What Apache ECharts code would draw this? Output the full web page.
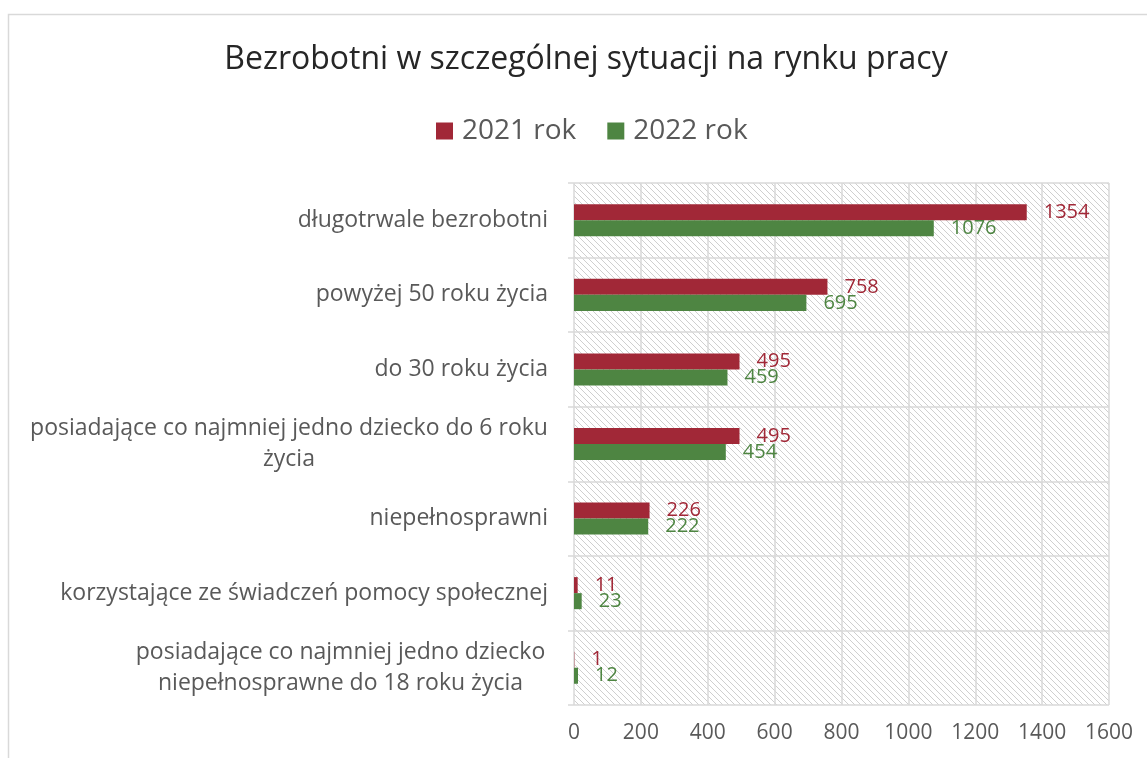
<!DOCTYPE html>
<html><head><meta charset="utf-8">
<script src="https://cdn.jsdelivr.net/npm/echarts@6/dist/echarts.min.js"></script>
<style>html,body{margin:0;padding:0;background:#fff}#c{width:1147px;height:758px}</style>
</head><body><div id="c"></div>
<script>
const categories = [
  'długotrwale bezrobotni',
  'powyżej 50 roku życia',
  'do 30 roku życia',
  'posiadające co najmniej jedno dziecko do 6 roku\nżycia',
  'niepełnosprawni',
  'korzystające ze świadczeń pomocy społecznej',
  'posiadające co najmniej jedno dziecko\nniepełnosprawne do 18 roku życia'
];
const values2021 = [1354, 758, 495, 495, 226, 11, 1];
const values2022 = [1076, 695, 459, 454, 222, 23, 12];
const seriesNames = ['2021 rok', '2022 rok'];
const xTicks = [0, 200, 400, 600, 800, 1000, 1200, 1400, 1600];

const RED = '#A12837', GREEN = '#4E8542';
const FONT = '"Open Sans", "Noto Sans", sans-serif';
const LBL = 23;

const tile = document.createElement('canvas');
tile.width = 6; tile.height = 6;
const tc = tile.getContext('2d');
tc.fillStyle = '#fff'; tc.fillRect(0,0,6,6);
tc.strokeStyle = '#cfcfcf'; tc.lineWidth = 1;
tc.beginPath();
tc.moveTo(-1,-1); tc.lineTo(7,7);
tc.moveTo(-4,2); tc.lineTo(2,8);
tc.moveTo(2,-4); tc.lineTo(8,2);
tc.stroke();

const chart = echarts.init(document.getElementById('c'), null, {renderer:'canvas'});
chart.setOption({
  animation: false,
  backgroundColor: '#fff',
  graphic: [{type:'rect', shape:{x:8.5,y:14.5,width:1160,height:760}, style:{fill:'none', stroke:'#d9d9d9', lineWidth:1.5}, z:-1}],
  title: {
    text: 'Bezrobotni w szczególnej sytuacji na rynku pracy',
    left: 581, textAlign: 'center', top: 39,
    textStyle: {fontFamily: FONT, fontSize: 32, fontWeight: 'normal', color: '#262626'}
  },
  legend: {
    data: seriesNames, top: 112, left: 431,
    itemWidth: 17, itemHeight: 17, itemGap: 31, icon: 'rect',
    textStyle: {fontFamily: FONT, fontSize: 28, color: '#595959', padding: [0,0,0,4]}
  },
  grid: {
    left: 574, right: 38, top: 183, bottom: 53,
    show: true, backgroundColor: {image: tile, repeat: 'repeat'}, borderWidth: 0
  },
  xAxis: {
    type: 'value', min: 0, max: 1600, interval: 200,
    axisLine: {show:false}, axisTick: {show:false},
    axisLabel: {fontFamily: FONT, fontSize: 21, color: '#595959', margin: 18,
      formatter: v => xTicks.includes(v) ? String(v) : ''},
    splitLine: {lineStyle: {color: '#d9d9d9', width: 1.5}}
  },
  yAxis: {
    type: 'category', data: categories, inverse: true,
    axisLine: {show:false},
    axisTick: {show:true, length: 6, lineStyle: {color: '#d9d9d9', width: 1.5}},
    splitLine: {show:true, lineStyle: {color: '#d9d9d9', width: 1.5}},
    axisLabel: {
      fontFamily: FONT, fontSize: LBL, color: '#595959', margin: 26, lineHeight: 31,
      formatter: (v) => {
        if (v.indexOf('\n') < 0) return v;
        const lines = v.split('\n');
        const key = v.indexOf('6 roku') >= 0 ? 'w1' : 'w2';
        return lines.map(l => '{' + key + '|' + l + '}').join('\n');
      },
      rich: {
        w1: {width: 518, align: 'center', fontFamily: FONT, fontSize: LBL, color: '#595959', lineHeight: 31},
        w2: {width: 415, align: 'center', fontFamily: FONT, fontSize: LBL, color: '#595959', lineHeight: 31}
      }
    }
  },
  series: [
    {name: seriesNames[0], type: 'bar', data: values2021, itemStyle: {color: RED},
     barGap: '0%', barCategoryGap: '57%',
     label: {show: true, position: 'right', distance: 17, color: RED, fontFamily: FONT, fontSize: 20}},
    {name: seriesNames[1], type: 'bar', data: values2022, itemStyle: {color: GREEN},
     barGap: '0%', barCategoryGap: '57%',
     label: {show: true, position: 'right', distance: 17, color: GREEN, fontFamily: FONT, fontSize: 20}}
  ]
});
</script>
</body></html>
